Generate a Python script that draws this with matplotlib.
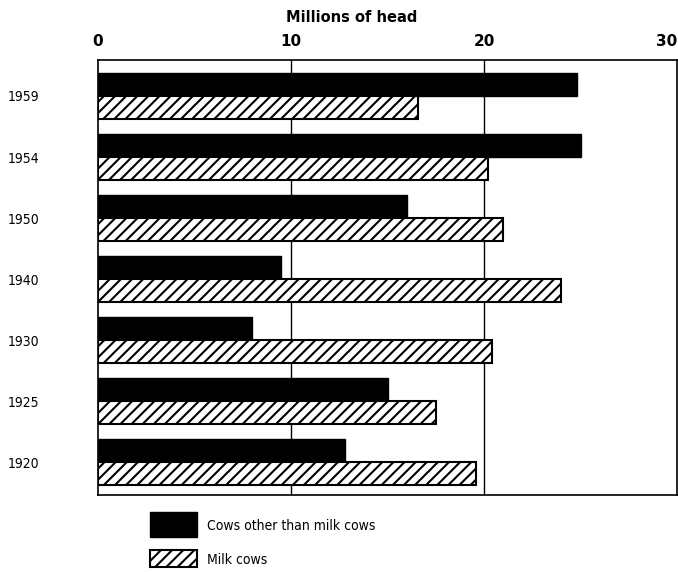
import matplotlib
matplotlib.use("Agg")
import matplotlib.pyplot as plt
from matplotlib.patches import Rectangle
import matplotlib.transforms as mtransforms

years = ["1959", "1954", "1950", "1940", "1930", "1925", "1920"]
other_cows = [24.8, 25.0, 16.0, 9.5, 8.0, 15.0, 12.8]
milk_cows = [16.6, 20.2, 21.0, 24.0, 20.4, 17.5, 19.6]
xticks = [0, 10, 20, 30]

plt.rcParams['hatch.linewidth'] = 1.5
narrow = ['DejaVu Sans']

fig = plt.figure(figsize=(6.78, 5.72), dpi=100)
ax = fig.add_axes([98/678, 1-495/572, 579/678, 435/572])

pos = list(range(len(years)))
h = 0.375
ax.barh([p - h/2 for p in pos], other_cows, height=h, color='black',
        edgecolor='black', linewidth=1, zorder=3)
ax.barh([p + h/2 for p in pos], milk_cows, height=h, color='white',
        edgecolor='black', hatch='///', linewidth=1.5, zorder=3)

ax.set_xlim(0, 30)
ax.set_ylim(6 + 0.54, -0.59)
ax.xaxis.tick_top()
ax.set_xticks(xticks)
ax.set_xticklabels([str(t) for t in xticks], fontsize=11, fontweight='bold',
                   family=['DejaVu Sans'])
ax.tick_params(axis='x', length=0, pad=8)
last = ax.get_xticklabels()[-1]
last.set_transform(last.get_transform() +
                   mtransforms.ScaledTranslation(-10/100, 0, fig.dpi_scale_trans))
ax.set_yticks(pos)
ax.set_yticklabels(years, fontsize=10, family=narrow, fontstretch='condensed')
ax.tick_params(axis='y', length=0, pad=65)
for lbl in ax.get_yticklabels():
    lbl.set_horizontalalignment('left')
for t in [10, 20]:
    ax.axvline(t, color='black', linewidth=1, zorder=1)
for s in ax.spines.values():
    s.set_linewidth(1.2)

fig.text(352/678, 1-18/572, "Millions of head", ha='center', va='center',
         fontsize=10.5, fontweight='bold', family=['DejaVu Sans'])

# legend
fig.patches.append(Rectangle((150/678, 1-537/572), 47/678, 25/572,
                             transform=fig.transFigure, facecolor='black',
                             edgecolor='black'))
fig.patches.append(Rectangle((150/678, 1-567/572), 47/678, 17/572,
                             transform=fig.transFigure, facecolor='white',
                             edgecolor='black', hatch='///', linewidth=1.5))
fig.text(207/678, 1-526/572, "Cows other than milk cows", ha='left',
         va='center', fontsize=10, family=narrow, fontstretch='condensed')
fig.text(207/678, 1-560/572, "Milk cows", ha='left', va='center',
         fontsize=10, family=narrow, fontstretch='condensed')

fig.savefig("out.png", dpi=100)
